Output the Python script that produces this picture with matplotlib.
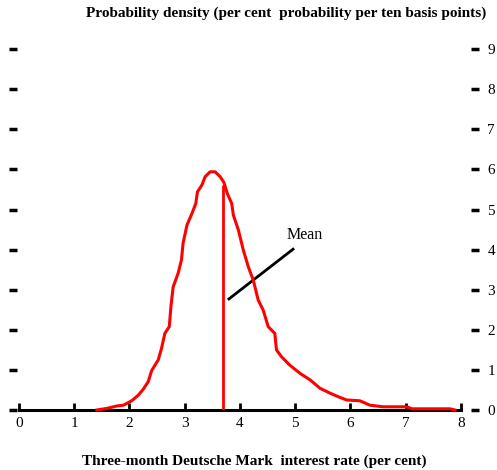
import matplotlib
matplotlib.use("Agg")
import matplotlib.pyplot as plt

# =====================================================
# DATA
# =====================================================

rate = [1.41, 1.59, 1.77, 1.89, 2.04, 2.16, 2.25, 2.34, 2.40, 2.52, 2.58,
        2.64, 2.72, 2.75, 2.79, 2.88, 2.94, 2.97, 3.04, 3.13, 3.20, 3.23,
        3.31, 3.37, 3.46, 3.55, 3.64, 3.71, 3.77, 3.85, 3.88, 3.97, 4.06,
        4.15, 4.24, 4.33, 4.42, 4.51, 4.63, 4.66, 4.75, 4.90, 5.09, 5.27,
        5.45, 5.63, 5.78, 5.93, 6.17, 6.35, 6.59, 7.02, 7.11, 7.80, 7.89]
density = [0.00, 0.04, 0.10, 0.12, 0.23, 0.37, 0.52, 0.71, 0.98, 1.25, 1.54,
           1.91, 2.08, 2.58, 3.07, 3.41, 3.74, 4.16, 4.61, 4.90, 5.15, 5.44,
           5.61, 5.82, 5.94, 5.94, 5.82, 5.67, 5.40, 5.15, 4.86, 4.49, 3.99,
           3.57, 3.24, 2.74, 2.49, 2.08, 1.91, 1.50, 1.33, 1.12, 0.91, 0.75,
           0.54, 0.42, 0.33, 0.25, 0.23, 0.12, 0.08, 0.08, 0.03, 0.03, 0.00]

mean_rate = 3.69
mean_density = 5.60

x_ticks = [0, 1, 2, 3, 4, 5, 6, 7, 8]
y_ticks = [0, 1, 2, 3, 4, 5, 6, 7, 8, 9]

title = "Probability density (per cent  probability per ten basis points)"
xlabel = "Three-month Deutsche Mark  interest rate (per cent)"

# =====================================================
# PLOT
# =====================================================

plt.rcParams["font.family"] = ["Liberation Serif", "DejaVu Serif"]

fig = plt.figure(figsize=(4.97, 4.70), dpi=100)
ax = fig.add_axes([13 / 497, 60 / 470, 462 / 497, 365 / 470])

ax.plot(rate, density, color="#ff0000", lw=2.2, clip_on=False, zorder=3)
ax.vlines(mean_rate, 0, mean_density, color="#ff0000", lw=2.0, zorder=3)

# pointer to the mean
ax.plot([3.80, 4.96], [2.77, 4.01], color="black", lw=2.0)
ax.text(4.84, 4.36, "Mean", fontsize=11.5, va="center", ha="left")

ax.set_xlim(-6 / 55.25, 456 / 55.25)
ax.set_ylim(0, 365 / 40.1)

for side in ["top", "left", "right"]:
    ax.spines[side].set_visible(False)
ax.spines["bottom"].set_bounds(0, 8)
ax.spines["bottom"].set_linewidth(2.2)

ax.set_xticks(x_ticks)
ax.tick_params(axis="x", direction="in", length=5, width=2, labelsize=11, pad=5)

ax.set_yticks(y_ticks)
ax.yaxis.set_ticks_position("both")
ax.tick_params(axis="y", direction="inout", length=6, width=2.5,
               labelleft=False, labelright=True, labelsize=11, pad=6)

fig.text(0.576, 0.972, title, ha="center", va="center",
         fontsize=11, fontweight="bold")
fig.text(0.511, 0.019, xlabel, ha="center", va="center",
         fontsize=11, fontweight="bold")

fig.savefig("out.png", dpi=100)
plt.close(fig)
